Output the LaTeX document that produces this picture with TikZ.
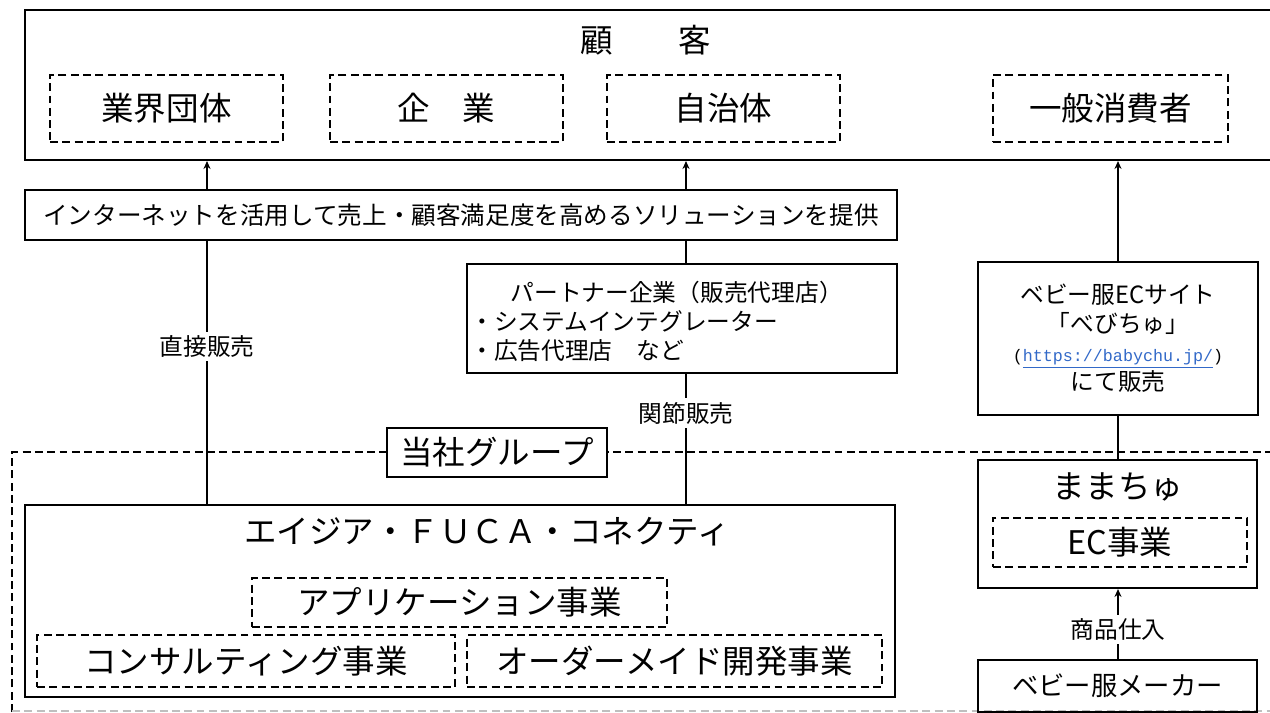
\documentclass[tikz,border=0pt]{standalone}
\usepackage{fontspec}
\setmainfont{Noto Sans CJK JP}
\newfontfamily\urlfont{Liberation Mono}
\usetikzlibrary{arrows.meta}

\begin{document}
\begin{tikzpicture}[x=0.2mm,y=-0.2mm,
    boxsize/.style 2 args={minimum width=#1*0.2mm,minimum height=#2*0.2mm},
    solidbox/.style={draw,line width=1.2pt,inner sep=0pt},
    dashbox/.style={draw,line width=1.1pt,dash pattern=on 4.5pt off 2.5pt,inner sep=0pt},
    bigtext/.style={font=\fontsize{18.5}{22}\selectfont},
    midtext/.style={font=\fontsize{14}{17}\selectfont},
    smalltext/.style={font=\fontsize{13.5}{16.5}\selectfont},
    saleslbl/.style={fill=white,inner sep=2pt,font=\fontsize{13.5}{16}\selectfont},
    tip/.style={-{Stealth[length=4.5pt,width=4pt]}}]
    \useasboundingbox (0,0) rectangle (1270,713);

    % group frame
    \draw[line width=1.1pt,dash pattern=on 4.5pt off 2.5pt] (12,712) -- (12,452) -- (1290,452);
    \draw[black!25,line width=0.8pt,dash pattern=on 4.5pt off 2.5pt] (12,711) -- (1290,711);

    \begin{scope}[every node/.style={solidbox}]
      \node[boxsize={1260}{150}] (cust) at (655,85) {};
      \node[boxsize={872}{50},midtext] (sol) at (461,215) {インターネットを活用して売上・顧客満足度を高めるソリューションを提供};
      \node[boxsize={430}{109}] (partner) at (682,318.5) {};
      \node[boxsize={280}{153},smalltext,align=center] (ecsite) at (1118,338.5)
        {ベビー服ECサイト\\「べびちゅ」\\{\urlfont\fontsize{9.5}{12}\selectfont(\textcolor[RGB]{50,105,200}{\underline{https://babychu.jp/}})}\\にて販売};
      \node[boxsize={220}{49},bigtext,fill=white,line width=0.9pt] (grplbl) at (497,452.5) {当社グループ};
      \node[boxsize={870}{192}] (fuca) at (460,601) {};
      \node[boxsize={279}{128}] (mama) at (1117.5,524) {};
      \node[boxsize={279}{52},font=\fontsize{15}{18}\selectfont] (maker) at (1117.5,686) {ベビー服メーカー};
    \end{scope}

    \begin{scope}[every node/.style={dashbox,bigtext}]
      \node[boxsize={233}{67}] (ind) at (166.5,108.5) {業界団体};
      \node[boxsize={233}{67}] (corp) at (446.5,108.5) {企\hspace{1em}業};
      \node[boxsize={233}{67}] (gov) at (723.5,108.5) {自治体};
      \node[boxsize={235}{67}] (cons) at (1110.5,108.5) {一般消費者};
      \node[boxsize={415}{49}] (app) at (459.5,602.5) {アプリケーション事業};
      \node[boxsize={418}{52}] (consult) at (246,661) {コンサルティング事業};
      \node[boxsize={415}{52}] (order) at (674.5,661) {オーダーメイド開発事業};
      \node[boxsize={254}{49}] (ecbiz) at (1120,542.5) {EC事業};
    \end{scope}

    \node[bigtext] (custttl) at (646,40) {顧\hspace{2em}客};
    \node[bigtext] (fucattl) at (487,532) {エイジア・ＦＵＣＡ・コネクティ};
    \node[bigtext] (mamattl) at (1118,487) {ままちゅ};
    \node[smalltext,align=left,anchor=west,inner sep=0pt] (partnertxt) at ([xshift=0.8mm,yshift=-0.5mm]partner.west)
      {\hspace{1.7em}パートナー企業（販売代理店）\\・システムインテグレーター\\・広告代理店　など};

    \coordinate (lx) at (207,0);
    \coordinate (mx) at (686,0);
    \coordinate (rx) at (1118,0);

    \begin{scope}[line width=0.9pt]
      \draw[tip] (sol.north -| lx) -- (cust.south -| lx);
      \draw[tip] (sol.north -| mx) -- (cust.south -| mx);
      \draw[tip] (ecsite.north -| rx) -- (cust.south -| rx);
      \draw (fuca.north -| lx) -- node[saleslbl,pos=0.6] (direct) {直接販売} (sol.south -| lx);
      \draw (partner.north -| mx) -- (sol.south -| mx);
      \draw (fuca.north -| mx) -- node[saleslbl,pos=0.7] (indirect) {関節販売} (partner.south -| mx);
      \draw (mama.north -| rx) -- (ecsite.south -| rx);
      \draw[tip] (maker.north -| rx) -- node[saleslbl,pos=0.42] (buy) {商品仕入} (mama.south -| rx);
    \end{scope}
\end{tikzpicture}
\end{document}
